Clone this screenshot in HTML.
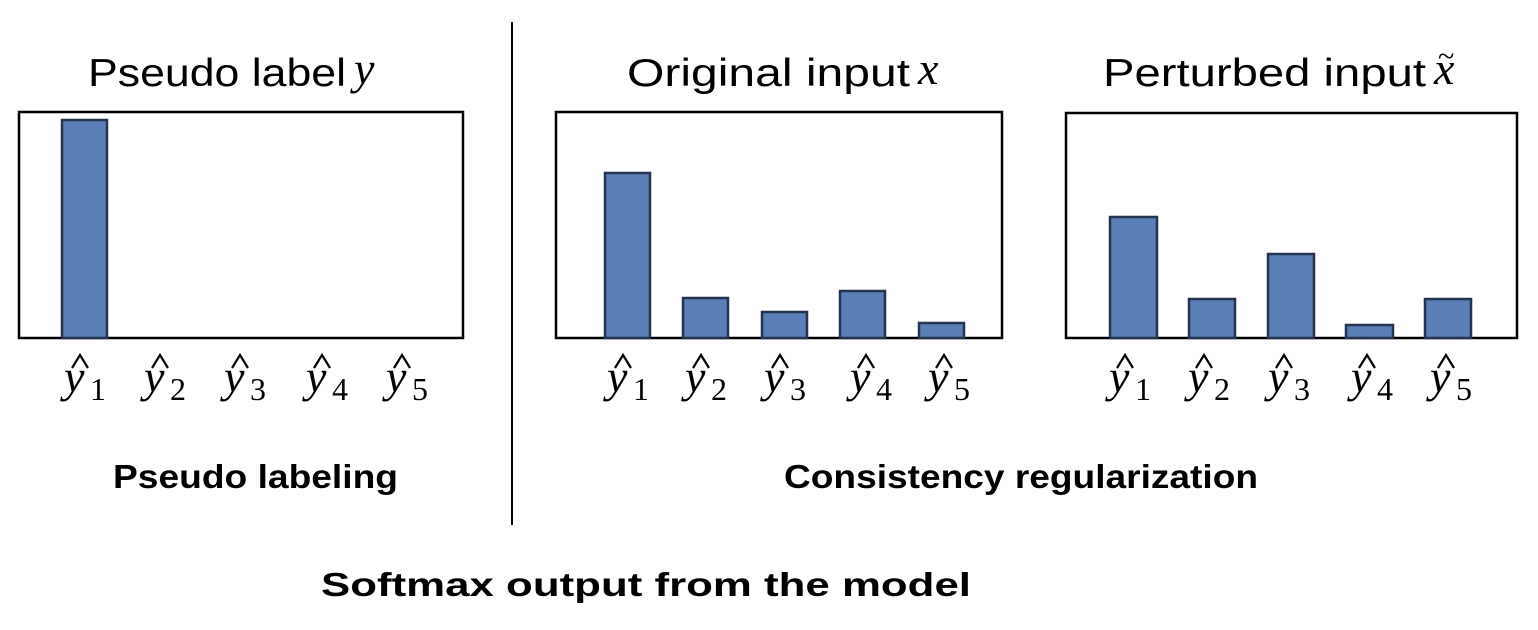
<!DOCTYPE html>
<html><head><meta charset="utf-8"><style>
html,body{margin:0;padding:0;background:#fff;}
svg{display:block;}
.t{font-family:"Liberation Sans",sans-serif;font-size:39px;fill:#000;}
.b{font-family:"Liberation Sans",sans-serif;font-size:33px;font-weight:bold;fill:#000;}
.m{font-family:"Liberation Serif",serif;font-style:italic;font-size:46px;fill:#000;}
.s{font-family:"Liberation Serif",serif;font-size:32px;fill:#000;}
.bar{fill:#5a7fb6;stroke:#24334f;stroke-width:2.5;}
.box{fill:none;stroke:#000;stroke-width:2.5;}
.hat{fill:none;stroke:#000;stroke-width:2.2;}
</style></head><body>
<svg width="1538" height="630" viewBox="0 0 1538 630" xmlns="http://www.w3.org/2000/svg">
<defs><polyline id="hat" class="hat" points="2,368 10,355 18,368"/></defs>
<text class="t" x="88" y="86" textLength="258" lengthAdjust="spacingAndGlyphs">Pseudo label</text>
<text class="m" x="354" y="84">y</text>
<text class="t" x="627" y="86" textLength="283" lengthAdjust="spacingAndGlyphs">Original input</text>
<text class="m" x="918" y="84">x</text>
<text class="t" x="1103" y="86" textLength="323" lengthAdjust="spacingAndGlyphs">Perturbed input</text>
<text class="m" x="1434" y="84">x</text>
<text x="1438" y="66" font-family="Liberation Serif" font-size="30">~</text>

<line x1="512" y1="22" x2="512" y2="525" stroke="#000" stroke-width="2"/>

<rect class="box" x="19" y="112" width="444" height="226"/>
<rect class="bar" x="62" y="120" width="45" height="218"/>

<rect class="box" x="556" y="112" width="446" height="226"/>
<rect class="bar" x="605" y="173" width="45" height="165"/>
<rect class="bar" x="683" y="298" width="45" height="40"/>
<rect class="bar" x="762" y="312" width="45" height="26"/>
<rect class="bar" x="840" y="291" width="45" height="47"/>
<rect class="bar" x="919" y="323" width="45" height="15"/>

<rect class="box" x="1066" y="113" width="451" height="225"/>
<rect class="bar" x="1110" y="217" width="47" height="121"/>
<rect class="bar" x="1189" y="299" width="46" height="39"/>
<rect class="bar" x="1268" y="254" width="46" height="84"/>
<rect class="bar" x="1346" y="325" width="47" height="13"/>
<rect class="bar" x="1425" y="299" width="46" height="39"/>

<g>
<text class="m" x="64" y="392">y</text><use href="#hat" x="70"/><text class="s" x="90" y="400">1</text>
<text class="m" x="144" y="392">y</text><use href="#hat" x="150"/><text class="s" x="170" y="400">2</text>
<text class="m" x="224" y="392">y</text><use href="#hat" x="230"/><text class="s" x="250" y="400">3</text>
<text class="m" x="306" y="392">y</text><use href="#hat" x="312"/><text class="s" x="332" y="400">4</text>
<text class="m" x="386" y="392">y</text><use href="#hat" x="392"/><text class="s" x="412" y="400">5</text>

<text class="m" x="607" y="392">y</text><use href="#hat" x="613"/><text class="s" x="633" y="400">1</text>
<text class="m" x="685" y="392">y</text><use href="#hat" x="691"/><text class="s" x="711" y="400">2</text>
<text class="m" x="764" y="392">y</text><use href="#hat" x="770"/><text class="s" x="790" y="400">3</text>
<text class="m" x="850" y="392">y</text><use href="#hat" x="856"/><text class="s" x="876" y="400">4</text>
<text class="m" x="928" y="392">y</text><use href="#hat" x="934"/><text class="s" x="954" y="400">5</text>

<text class="m" x="1109" y="392">y</text><use href="#hat" x="1115"/><text class="s" x="1135" y="400">1</text>
<text class="m" x="1188" y="392">y</text><use href="#hat" x="1194"/><text class="s" x="1214" y="400">2</text>
<text class="m" x="1268" y="392">y</text><use href="#hat" x="1274"/><text class="s" x="1294" y="400">3</text>
<text class="m" x="1351" y="392">y</text><use href="#hat" x="1357"/><text class="s" x="1377" y="400">4</text>
<text class="m" x="1430" y="392">y</text><use href="#hat" x="1436"/><text class="s" x="1456" y="400">5</text>
</g>

<text class="b" x="113" y="488" textLength="285" lengthAdjust="spacingAndGlyphs">Pseudo labeling</text>
<text class="b" x="784" y="488" textLength="474" lengthAdjust="spacingAndGlyphs">Consistency regularization</text>
<text class="b" x="321" y="596" font-size="36" textLength="650" lengthAdjust="spacingAndGlyphs">Softmax output from the model</text>
</svg>
</body></html>
